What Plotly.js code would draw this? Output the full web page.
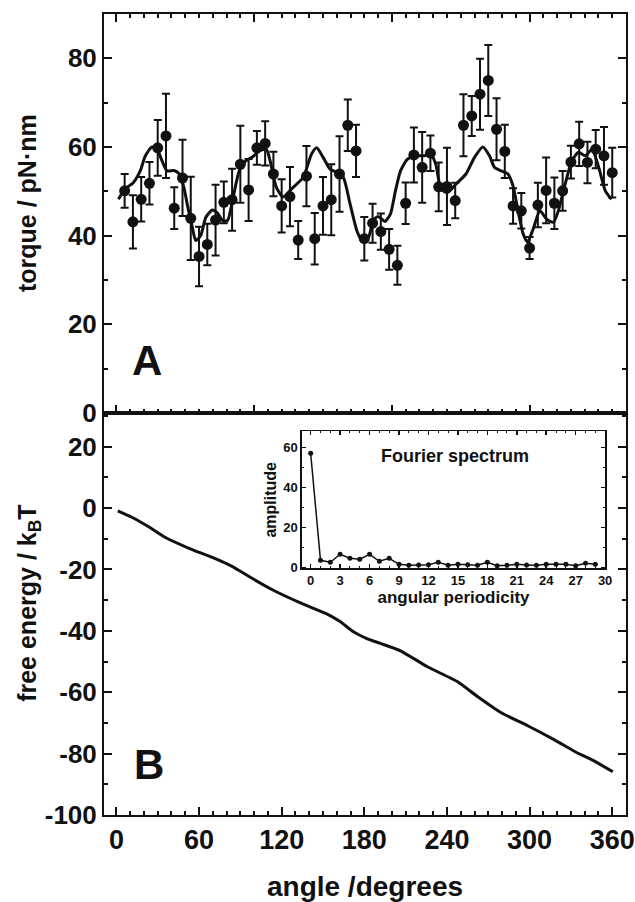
<!DOCTYPE html>
<html>
<head>
<meta charset="utf-8">
<script src="https://cdn.plot.ly/plotly-3.0.1.min.js"></script>
<style>html,body{margin:0;padding:0;background:#fff;}#chart{width:635px;height:902px;}</style>
</head>
<body>
<div id="chart"></div>
<script>
// Panel A: measured torque (pN·nm) with error bars
const angles = [6,12,18,24,30,36,42,48,54,60,66,72,78,84,90,96,102,108,114,120,126,132,138,144,150,156,162,168,174,180,186,192,198,204,210,216,222,228,234,240,246,252,258,264,270,276,282,288,294,300,306,312,318,324,330,336,342,348,354,360];
const torque = [50.1,43.1,48.2,51.8,59.8,62.5,46.2,53,43.9,35.3,38,43.5,47.5,48.1,56.1,50.3,59.8,60.8,53.9,46.7,48.8,39,53.4,39.3,46.7,48.1,53.9,64.9,59.1,39.3,42.8,40.9,36.9,33.3,47.3,58.2,55.4,58.6,51,51.1,47.9,64.9,67,71.9,75,64,59,46.7,45.6,37.2,46.9,50.2,47.3,50.1,56.6,60.7,56.5,59.5,58,54.2];
const torqueErr = [3.8,6,5,4.8,6.3,9.5,4.7,8.6,9.4,6.7,4.7,8,4.7,7,8.7,7,3.8,5,5,6,6.7,4.3,6.8,5.8,6.5,8,8.5,5.8,5.9,4.9,4.4,4.1,4.6,4.4,4.7,6.2,8,4,5.5,8.7,4,7,4.5,8,8,7,6,4,4,2.5,5,7.4,5.8,4.5,3.7,5,4.7,4.3,6.5,5.6];

// Panel A: smooth fitted curve
const fitX = [1.5,6.3,12.4,17.3,21,25.8,29.5,33.1,36.8,41.7,45.4,49,51.4,55.1,57.6,61.2,64.9,69.7,73.4,77,80.7,84.3,89.2,94.1,99,103.9,108.8,111.5,116,121,128.3,135.6,141.7,145.4,150.2,155.1,160,164.8,169.7,174.6,178.3,183.1,186.5,190,195,199,202.6,206.3,211.2,217.3,223.4,228.2,231.9,235.6,240.4,246.5,253.8,259.9,266,270.9,274.5,279.4,284.3,288,291.6,295.3,298.5,302.6,307.5,312.4,317.3,320.9,325.8,330.7,335.5,340.4,345.3,350.2,355,359.4];
const fitY = [48.2,50.5,52,54.6,58,60,59.5,56.9,54.6,54.7,54,50.9,47.1,41.9,38.9,40,44.1,45.8,45.1,43.4,43.4,47.9,54.6,56.9,57.8,59.1,59.5,57,51,48.7,50.9,53.1,58.4,59.8,57.6,55,54.3,53.1,47.1,41.1,38.9,39.7,43.5,44.3,43.2,44.9,50.1,54.6,57.2,58,58,58.4,56.1,50.5,49.7,51.6,53.9,57.6,60,58,55.4,54.6,53.9,51.2,45.6,40.4,38.5,41.5,45.6,43.7,43,45.6,51.6,56.9,58.8,58,59.5,55.4,50.1,48.2];

// Panel B: free energy (kBT)
const feX = [1,11.2,23.4,35.6,52.7,69.7,84.3,96.6,113.6,133.1,152.7,162.4,172.1,181.9,191.7,206.3,225.8,247.8,262.4,279.4,299,318.4,333.1,347.7,360.4];
const feY = [-0.9,-3,-6.1,-9.6,-13.1,-16.1,-19.1,-22.4,-26.7,-30.8,-34.5,-37,-40.3,-42.5,-44.1,-46.5,-51.7,-56.6,-61.5,-66.7,-71,-75.6,-79.4,-82.6,-85.9];

// Inset: Fourier spectrum
const periodicity = [0,1,2,3,4,5,6,7,8,9,10,11,12,13,14,15,16,17,18,19,20,21,22,23,24,25,26,27,28,29];
const amplitude = [57,3.5,2.5,6.5,4.5,4,6.5,3,4.5,1.5,1,1.2,1.3,2.5,1,1.5,1.3,1,2.5,0.8,1,1.5,1.2,1,1.5,1.5,1.5,0.8,2,1.5];

// Tick labels
const angleTicks = [0,60,120,180,240,300,360];
const torqueTicks = [0,20,40,60,80];
const energyTicks = [-100,-80,-60,-40,-20,0,20];
const energyTickText = ['-100','-80','-60','-40','-20','0','20'];
const periodTicks = [0,3,6,9,12,15,18,21,24,27,30];
const ampTicks = [0,20,40,60];

const FONT = 'Liberation Sans, Arial, Helvetica, sans-serif';
const black = '#111';

const traces = [
  {x: fitX, y: fitY, xaxis: 'x2', yaxis: 'y2', mode: 'lines', line: {color: black, width: 3, shape: 'spline', smoothing: 0.6}, hoverinfo: 'skip'},
  {x: angles, y: torque, xaxis: 'x2', yaxis: 'y2', mode: 'markers',
   marker: {color: black, size: 11},
   error_y: {type: 'data', array: torqueErr, visible: true, color: black, thickness: 2, width: 4}},
  {x: feX, y: feY, xaxis: 'x', yaxis: 'y', mode: 'lines', line: {color: black, width: 3, shape: 'spline', smoothing: 0.5}},
  {x: periodicity, y: amplitude, xaxis: 'x3', yaxis: 'y3', mode: 'lines+markers',
   line: {color: black, width: 1.5}, marker: {color: black, size: 5}}
];

const axBase = {showline: true, linecolor: black, linewidth: 2, ticks: 'inside', tickcolor: black, tickwidth: 2, ticklen: 8,
  showgrid: false, zeroline: false, tickfont: {family: FONT, size: 26, color: black, weight: 'bold'}};
const minorBig = {dtick: 10, ticks: 'inside', ticklen: 4, tickwidth: 2, tickcolor: black};

const layout = {
  width: 635, height: 902,
  margin: {l: 104, r: 9, t: 14, b: 87},
  paper_bgcolor: '#fff', plot_bgcolor: '#fff',
  showlegend: false,
  font: {family: FONT, color: black},
  xaxis: Object.assign({}, axBase, {anchor: 'y', domain: [0, 1], range: [-9, 370], tickvals: angleTicks,
    mirror: true, tickfont: {family: FONT, size: 27, color: black, weight: 'bold'}, minor: minorBig,
    title: {text: 'angle /degrees', font: {family: FONT, size: 28, color: black, weight: 'bold'}, standoff: 23}}),
  xaxis2: Object.assign({}, axBase, {anchor: 'y2', domain: [0, 1], matches: 'x', showticklabels: false, mirror: 'ticks', minor: minorBig}),
  yaxis: Object.assign({}, axBase, {anchor: 'x', domain: [0, 0.502], range: [-100, 31], tickvals: energyTicks, ticktext: energyTickText,
    mirror: 'ticks', minor: minorBig}),
  yaxis2: Object.assign({}, axBase, {anchor: 'x2', domain: [0.502, 1], range: [0, 90], tickvals: torqueTicks,
    mirror: 'ticks', minor: minorBig}),
  xaxis3: {anchor: 'y3', domain: [0.379, 0.960], range: [-0.9, 30], tickvals: periodTicks,
    showline: true, linecolor: black, linewidth: 1.5, mirror: 'ticks', ticks: 'inside', ticklen: 4, tickwidth: 1.5, tickcolor: black,
    minor: {dtick: 1, ticks: 'inside', ticklen: 2, tickwidth: 1, tickcolor: black},
    showgrid: false, zeroline: false, tickfont: {family: FONT, size: 13, color: black, weight: 'bold'},
    title: {text: 'angular periodicity', font: {family: FONT, size: 17, color: black, weight: 'bold'}, standoff: 2}},
  yaxis3: {anchor: 'x3', domain: [0.308, 0.479], range: [-0.5, 68], tickvals: ampTicks,
    showline: true, linecolor: black, linewidth: 1.5, mirror: 'ticks', ticks: 'inside', ticklen: 4, tickwidth: 1.5, tickcolor: black,
    minor: {dtick: 10, ticks: 'inside', ticklen: 2, tickwidth: 1, tickcolor: black},
    showgrid: false, zeroline: false, tickfont: {family: FONT, size: 13, color: black, weight: 'bold'},
    title: {text: 'amplitude', font: {family: FONT, size: 16, color: black, weight: 'bold'}, standoff: 2}},
  annotations: [
    {text: 'torque / pN·nm', xref: 'paper', yref: 'paper', x: -0.1475, y: 0.764, textangle: -90, showarrow: false,
     xanchor: 'center', yanchor: 'middle', font: {family: FONT, size: 25, color: black, weight: 'bold'}},
    {text: 'free energy / k<sub>B</sub>T', xref: 'paper', yref: 'paper', x: -0.145, y: 0.264, textangle: -90, showarrow: false,
     xanchor: 'center', yanchor: 'middle', font: {family: FONT, size: 25, color: black, weight: 'bold'}},
    {text: 'A', xref: 'paper', yref: 'paper', x: 0.082, y: 0.567, showarrow: false, xanchor: 'center', yanchor: 'middle',
     font: {family: FONT, size: 42, color: black, weight: 'bold'}},
    {text: 'B', xref: 'paper', yref: 'paper', x: 0.086, y: 0.063, showarrow: false, xanchor: 'center', yanchor: 'middle',
     font: {family: FONT, size: 42, color: black, weight: 'bold'}},
    {text: 'Fourier spectrum', xref: 'paper', yref: 'paper', x: 0.672, y: 0.448, showarrow: false, xanchor: 'center', yanchor: 'middle',
     font: {family: FONT, size: 18, color: black, weight: 'bold'}}
  ]
};

Plotly.newPlot('chart', traces, layout, {displayModeBar: false, staticPlot: true});
</script>
</body>
</html>
